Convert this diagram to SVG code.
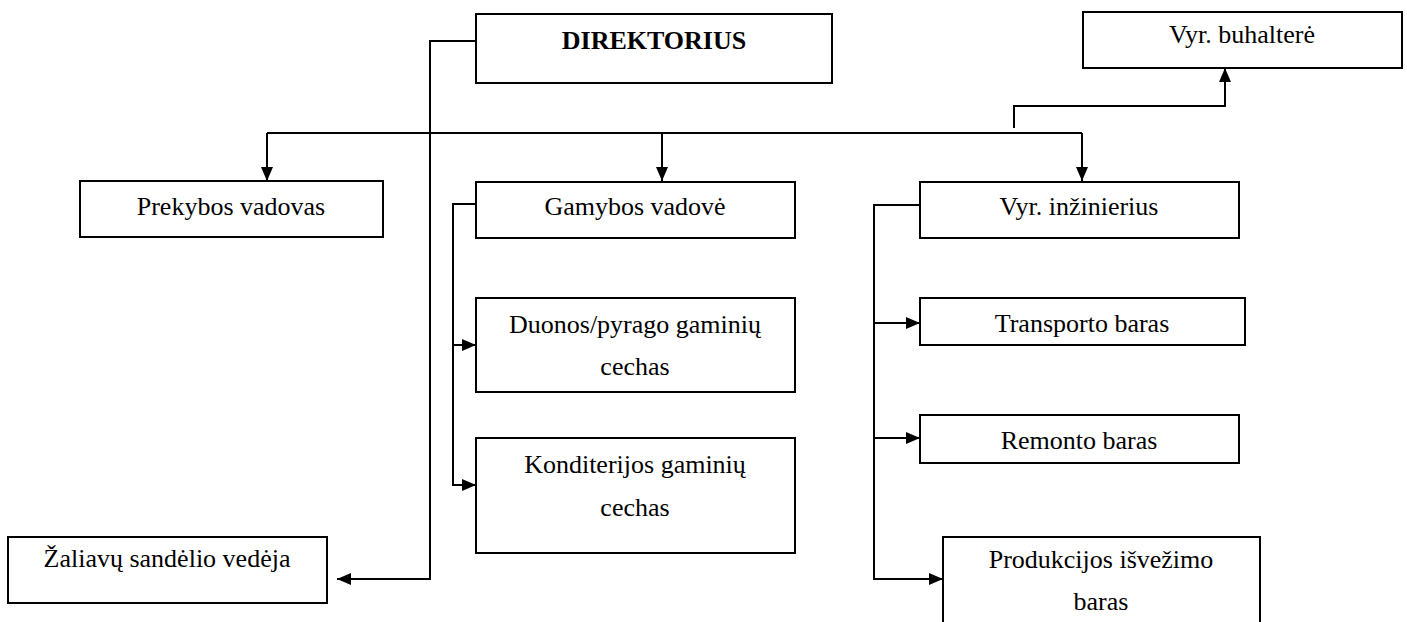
<svg xmlns="http://www.w3.org/2000/svg" width="1407" height="622" viewBox="0 0 1407 622">
  <style>
    .box { fill: #ffffff; stroke: #000000; stroke-width: 2; }
    .lbl { font-family: "Liberation Serif", "Times New Roman", serif; font-size: 26px; fill: #000000; text-anchor: middle; }
    .bold { font-weight: bold; }
    .wire { fill: none; stroke: #000000; stroke-width: 2; }
  </style>
  <defs>
    <marker id="arrow" viewBox="0 0 14 12" refX="14" refY="6" markerWidth="14" markerHeight="12" markerUnits="userSpaceOnUse" orient="auto">
      <path d="M0,0 L14,6 L0,12 Z" fill="#000000"/>
    </marker>
  </defs>
  <rect width="1407" height="622" fill="#ffffff"/>

  <!-- connectors -->
  <g id="connectors">
    <!-- director to warehouse -->
    <path class="wire" d="M476,41 H430 V579 H337" marker-end="url(#arrow)"/>
    <!-- main distribution bus -->
    <path class="wire" d="M267,133 H1082"/>
    <path class="wire" d="M267,133 V181" marker-end="url(#arrow)"/>
    <path class="wire" d="M662,133 V181" marker-end="url(#arrow)"/>
    <path class="wire" d="M1082,133 V181" marker-end="url(#arrow)"/>
    <!-- to chief accountant -->
    <path class="wire" d="M1014,128 V106 H1225 V68" marker-end="url(#arrow)"/>
    <!-- production manager bracket -->
    <path class="wire" d="M476,204 H453 V485 H476" marker-end="url(#arrow)"/>
    <path class="wire" d="M453,345 H476" marker-end="url(#arrow)"/>
    <!-- chief engineer bracket -->
    <path class="wire" d="M920,205 H874 V579 H943" marker-end="url(#arrow)"/>
    <path class="wire" d="M874,323 H920" marker-end="url(#arrow)"/>
    <path class="wire" d="M874,438 H920" marker-end="url(#arrow)"/>
  </g>

  <g id="direktorius">
    <rect class="box" x="476" y="14" width="356" height="69"/>
    <text class="lbl bold" x="654" y="49">DIREKTORIUS</text>
  </g>

  <g id="buhaltere">
    <rect class="box" x="1083" y="12" width="319" height="56"/>
    <text class="lbl" x="1242" y="43">Vyr. buhalterė</text>
  </g>

  <g id="prekybos">
    <rect class="box" x="80" y="181" width="303" height="56"/>
    <text class="lbl" x="231" y="215">Prekybos vadovas</text>
  </g>

  <g id="gamybos">
    <rect class="box" x="476" y="182" width="319" height="56"/>
    <text class="lbl" x="635" y="215">Gamybos vadovė</text>
  </g>

  <g id="inzinierius">
    <rect class="box" x="920" y="182" width="319" height="56"/>
    <text class="lbl" x="1079" y="215">Vyr. inžinierius</text>
  </g>

  <g id="duonos">
    <rect class="box" x="476" y="298" width="319" height="94"/>
    <text class="lbl" x="635" y="333">Duonos/pyrago gaminių</text>
    <text class="lbl" x="635" y="375">cechas</text>
  </g>

  <g id="konditerijos">
    <rect class="box" x="476" y="438" width="319" height="115"/>
    <text class="lbl" x="635" y="473">Konditerijos gaminių</text>
    <text class="lbl" x="635" y="516">cechas</text>
  </g>

  <g id="transporto">
    <rect class="box" x="920" y="298" width="325" height="47"/>
    <text class="lbl" x="1082" y="332">Transporto baras</text>
  </g>

  <g id="remonto">
    <rect class="box" x="920" y="415" width="319" height="48"/>
    <text class="lbl" x="1079" y="449">Remonto baras</text>
  </g>

  <g id="produkcijos">
    <rect class="box" x="943" y="537" width="317" height="100"/>
    <text class="lbl" x="1101" y="568">Produkcijos išvežimo</text>
    <text class="lbl" x="1101" y="610">baras</text>
  </g>

  <g id="zaliavu">
    <rect class="box" x="8" y="537" width="319" height="66"/>
    <text class="lbl" x="167" y="567">Žaliavų sandėlio vedėja</text>
  </g>
</svg>
